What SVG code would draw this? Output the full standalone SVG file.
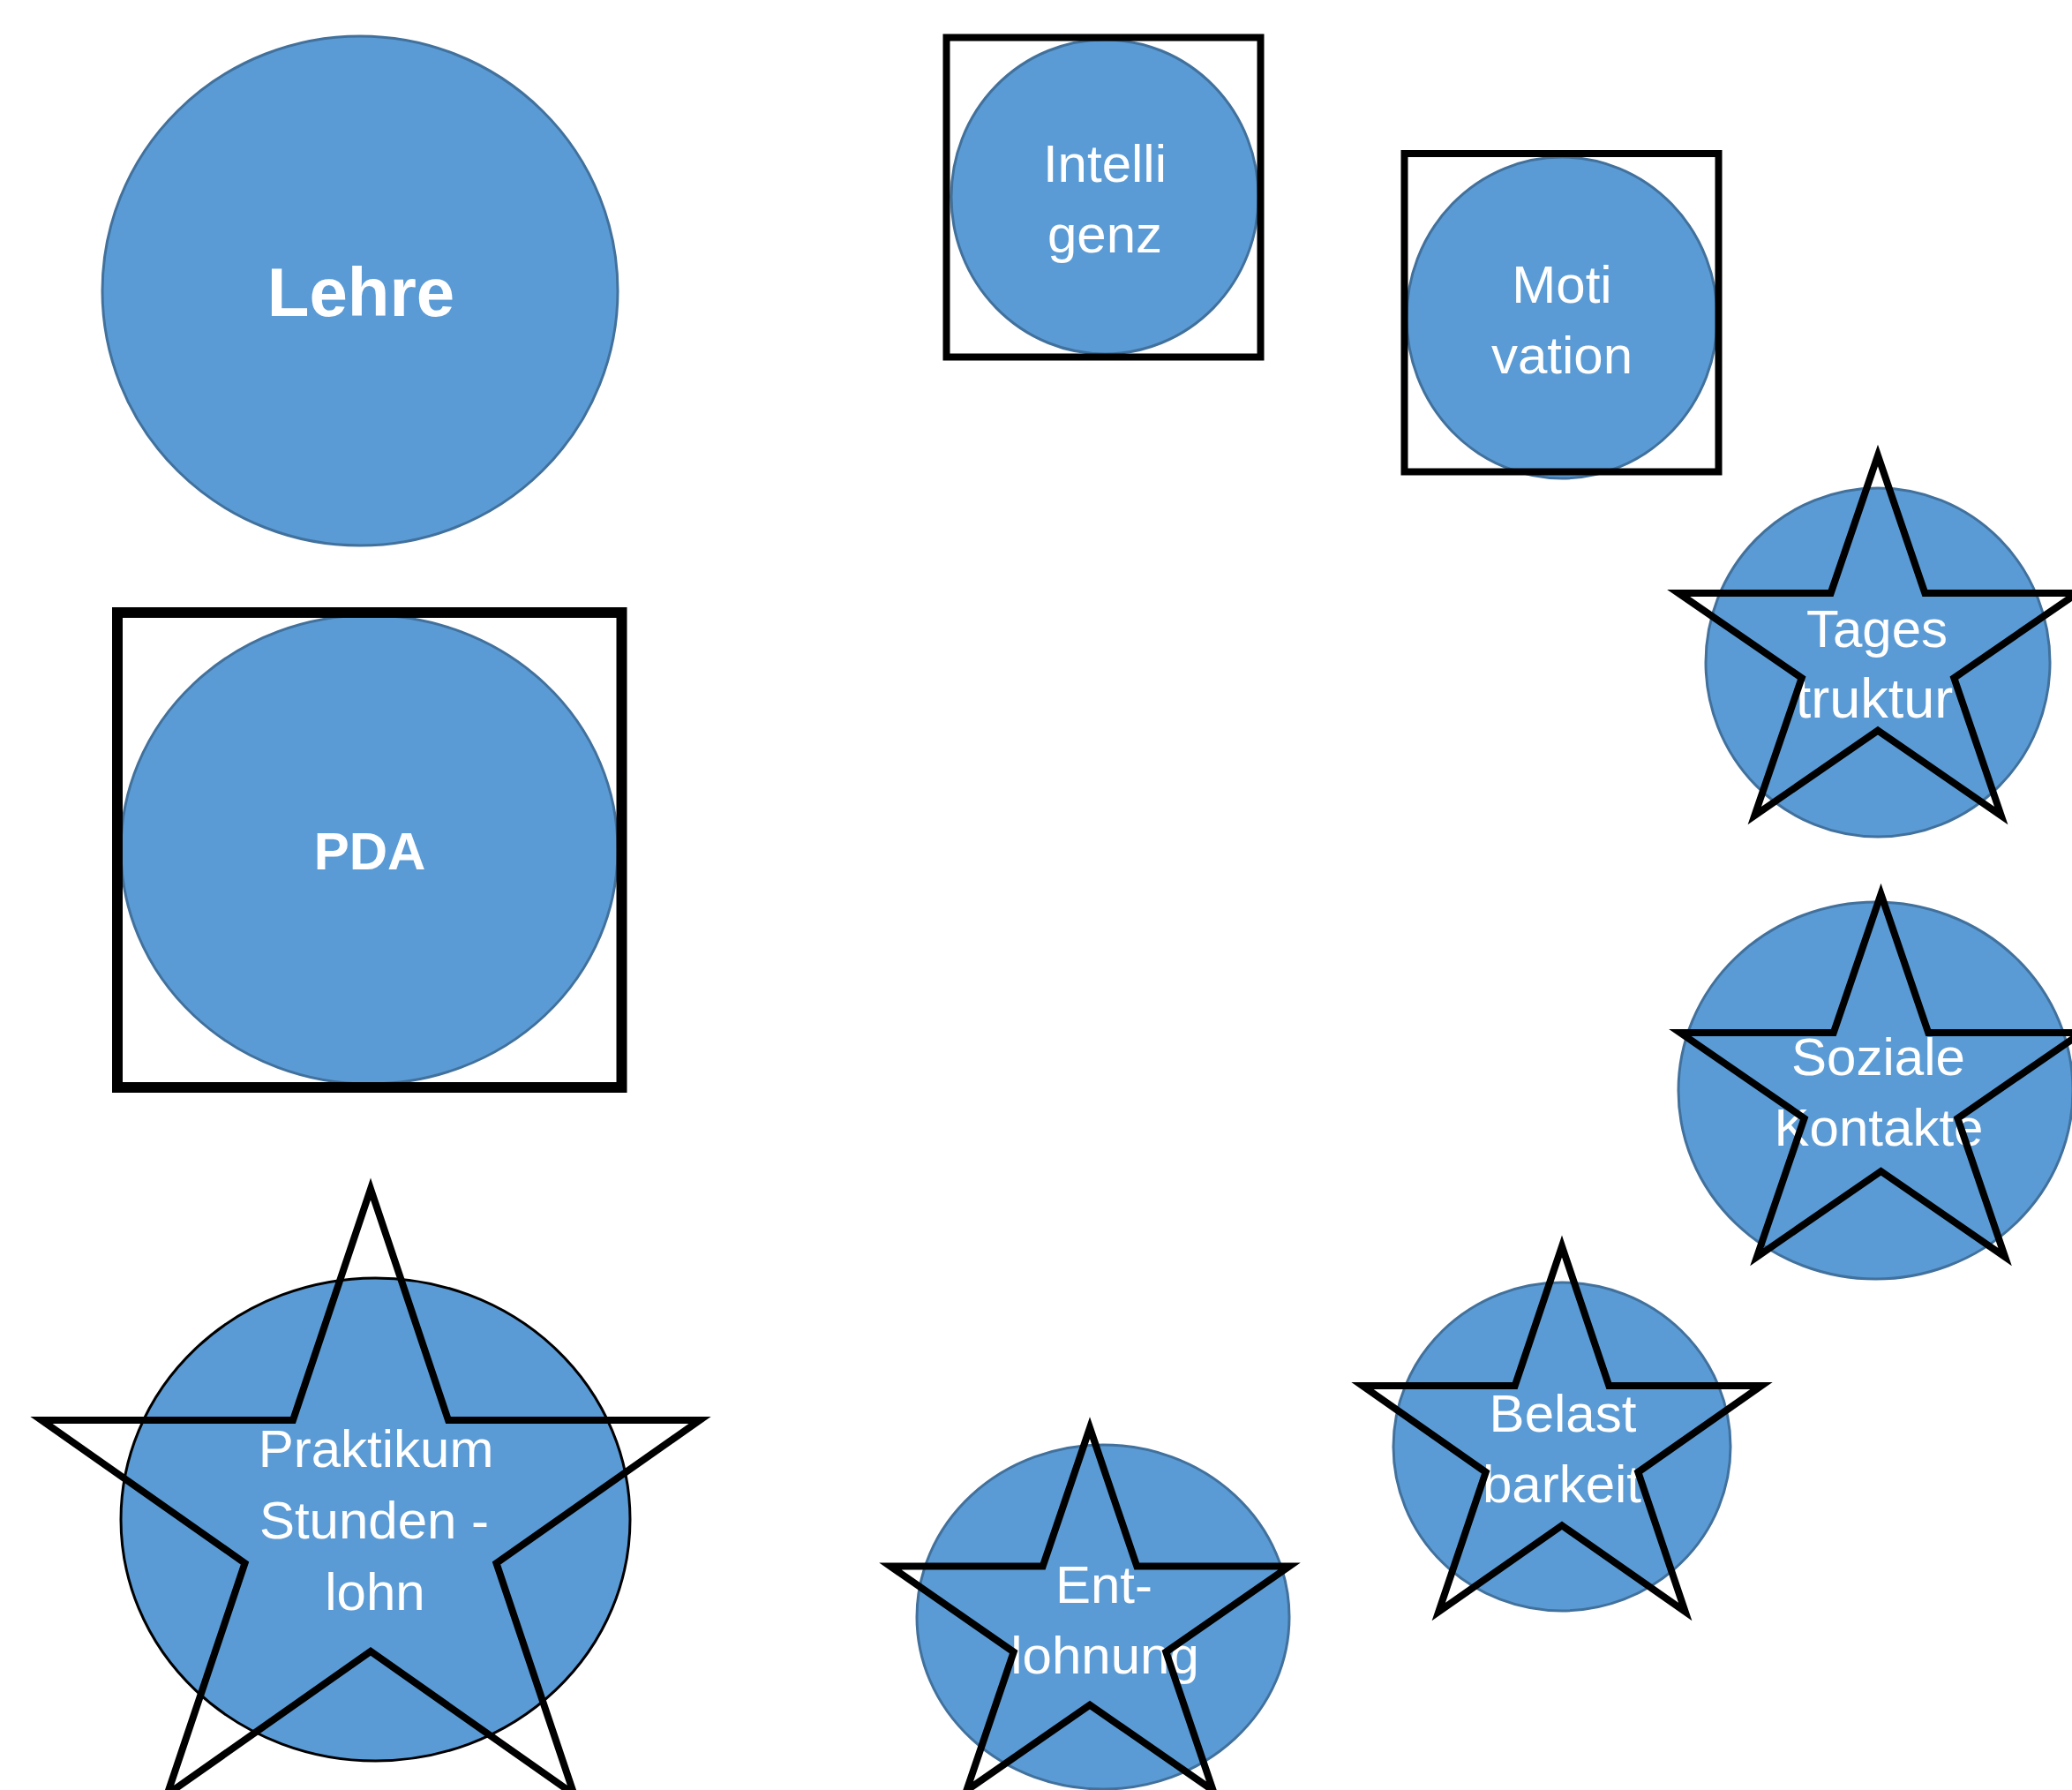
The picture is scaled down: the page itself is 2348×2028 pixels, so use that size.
<svg xmlns="http://www.w3.org/2000/svg" width="2348" height="2028" viewBox="0 0 2348 2028">
<style>
.bub{fill:#5B9BD5;stroke:#41719C;stroke-width:3}
.bubk{fill:#5B9BD5;stroke:#000;stroke-width:3}
.box{fill:none;stroke:#000;stroke-width:8}
.star{fill:none;stroke:#000;stroke-width:8;stroke-linejoin:miter;stroke-miterlimit:10}
.t{font-family:"Liberation Sans",Arial,sans-serif;font-size:60px;fill:#fff;text-anchor:middle}
.b{font-weight:bold}
</style>
<rect width="2348" height="2028" fill="#fff"/>
<g id="connectors"/>
<g id="lehre">
<ellipse class="bub" cx="408" cy="329.5" rx="292" ry="288.5"/>
<text class="t b" x="409" y="358" style="font-size:78px">Lehre</text>
</g>
<g id="pda">
<ellipse class="bub" cx="418.5" cy="962.5" rx="281.5" ry="265.5" stroke-width="4"/>
<text class="t b" x="419" y="985">PDA</text>
<rect x="133" y="694" width="571.5" height="538" fill="none" stroke="#000" stroke-width="12"/>
</g>
<g id="intelligenz">
<ellipse class="bub" cx="1252" cy="223" rx="174" ry="178"/>
<text class="t" x="1252" y="206">Intelli</text>
<text class="t" x="1252" y="286">genz</text>
<rect class="box" x="1072.5" y="42.5" width="356" height="362"/>
</g>
<g id="motivation">
<ellipse class="bub" cx="1770" cy="360" rx="176" ry="182"/>
<text class="t" x="1770" y="343">Moti</text>
<text class="t" x="1770" y="423">vation</text>
<rect class="box" x="1591.5" y="174" width="356" height="360.5"/>
</g>
<g id="tagesstruktur">
<ellipse class="bub" cx="2128" cy="750.5" rx="195" ry="197.5"/>
<text class="t" x="2127" y="733">Tages</text>
<text class="t" x="2124" y="813" style="font-size:63px">truktur</text>
<polygon class="star" points="2128,516 2181.3,671.9 2354,671.9 2214.3,768.1 2267.7,924 2128,827.7 1988.3,924 2041.7,768.1 1902,671.9 2074.7,671.9"/>
</g>
<g id="soziale-kontakte">
<ellipse class="bub" cx="2125.5" cy="1235.5" rx="223.5" ry="213.5"/>
<text class="t" x="2128.5" y="1218">Soziale</text>
<text class="t" x="2129" y="1298">Kontakte</text>
<polygon class="star" points="2131.5,1013 2185.2,1170 2359,1170 2218.4,1267 2272.1,1424 2131.5,1327 1990.9,1424 2044.6,1267 1904,1170 2077.8,1170"/>
</g>
<g id="belastbarkeit">
<ellipse class="bub" cx="1770" cy="1639" rx="191" ry="186"/>
<text class="t" x="1771" y="1622">Belast</text>
<text class="t" x="1770" y="1702">barkeit</text>
<polygon class="star" points="1770,1412 1823.3,1570.1 1996,1570.1 1856.3,1667.9 1909.7,1826 1770,1728.3 1630.3,1826 1683.7,1667.9 1544,1570.1 1716.7,1570.1"/>
</g>
<g id="entlohnung">
<ellipse class="bub" cx="1250" cy="1832" rx="211" ry="195"/>
<text class="t" x="1251" y="1816">Ent-</text>
<text class="t" x="1252" y="1896">lohnung</text>
<polygon class="star" points="1235,1617.6 1288.3,1774.6 1461,1774.6 1321.3,1871.6 1374.7,2028.6 1235,1931.6 1095.3,2028.6 1148.7,1871.6 1009,1774.6 1181.7,1774.6"/>
</g>
<g id="praktikum">
<ellipse class="bubk" cx="425.5" cy="1721.5" rx="288.5" ry="273.5"/>
<text class="t" x="426" y="1662">Praktikum</text>
<text class="t" x="424" y="1743">Stunden -</text>
<text class="t" x="425" y="1824">lohn</text>
<polygon class="star" stroke-width="7" points="420,1347 508,1609 793,1609 562.5,1771 650.5,2033 420,1871 189.5,2033 277.5,1771 47,1609 332,1609"/>
</g>
</svg>
